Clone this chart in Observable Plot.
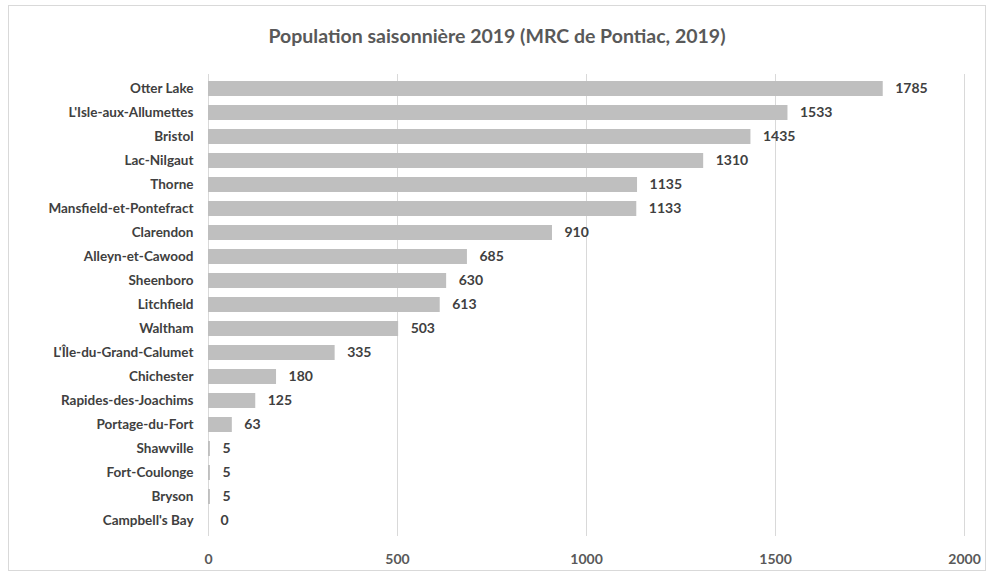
<!DOCTYPE html>
<html>
<head>
<meta charset="utf-8">
<script src="https://cdn.jsdelivr.net/npm/d3@7"></script>
<script src="https://cdn.jsdelivr.net/npm/@observablehq/plot@0.6"></script>
<style>
  body { margin: 0; background: #fff; font-family: Lato, "Open Sans", sans-serif; }
  #wrap { position: relative; width: 994px; height: 577px; }
  #frame { position: absolute; left: 8px; top: 5px; width: 976px; height: 564px; border: 1px solid #d9d9d9; pointer-events: none; }
  #title { position: absolute; left: 0; top: 24px; width: 994px; text-align: center; font-weight: bold; font-size: 19.5px; color: #595959; }
  #chart { position: absolute; left: 0; top: 60px; }
</style>
</head>
<body>
<div id="wrap">
  <div id="frame"></div>
  <div id="title">Population saisonnière 2019 (MRC de Pontiac, 2019)</div>
  <div id="chart"></div>
</div>
<script>
const municipalities = ["Otter Lake", "L'Isle-aux-Allumettes", "Bristol", "Lac-Nilgaut", "Thorne", "Mansfield-et-Pontefract", "Clarendon", "Alleyn-et-Cawood", "Sheenboro", "Litchfield", "Waltham", "L'Île-du-Grand-Calumet", "Chichester", "Rapides-des-Joachims", "Portage-du-Fort", "Shawville", "Fort-Coulonge", "Bryson", "Campbell's Bay"];
const population = [1785, 1533, 1435, 1310, 1135, 1133, 910, 685, 630, 613, 503, 335, 180, 125, 63, 5, 5, 5, 0];
const xTicks = [0, 500, 1000, 1500, 2000];

const data = municipalities.map((name, i) => ({name, value: population[i]}));

const chart = Plot.plot({
  width: 994,
  height: 517,
  marginLeft: 208,
  marginRight: 30,
  marginTop: 14,
  marginBottom: 41,
  style: {fontFamily: "Lato, 'Open Sans', sans-serif", fontSize: "13.5px", fontWeight: "bold", color: "#404040"},
  x: {domain: [0, 2000], ticks: xTicks, tickFormat: d => String(d), label: null},
  y: {domain: municipalities, label: null, paddingInner: 0.36, paddingOuter: 0.18},
  marks: [
    Plot.gridX(xTicks, {stroke: "#d9d9d9", strokeOpacity: 1, strokeWidth: 1}),
    Plot.ruleX([0], {stroke: "#d9d9d9", strokeWidth: 1}),
    Plot.ruleY([0], {frameAnchor: "bottom", stroke: "#d0d0d0", strokeWidth: 1}),
    Plot.axisX({ticks: xTicks, tickSize: 0, tickPadding: 18, fill: "#595959", fontSize: 14, tickFormat: d => String(d), label: null}),
    Plot.axisY({tickSize: 0, tickPadding: 15, fill: "#404040", label: null}),
    Plot.barX(data, {x: "value", y: "name", fill: "#bfbfbf"}),
    Plot.text(data, {x: "value", y: "name", text: d => String(d.value), textAnchor: "start", dx: 12, fontSize: 14, fill: "#404040"})
  ]
});
document.getElementById("chart").appendChild(chart);
</script>
</body>
</html>
